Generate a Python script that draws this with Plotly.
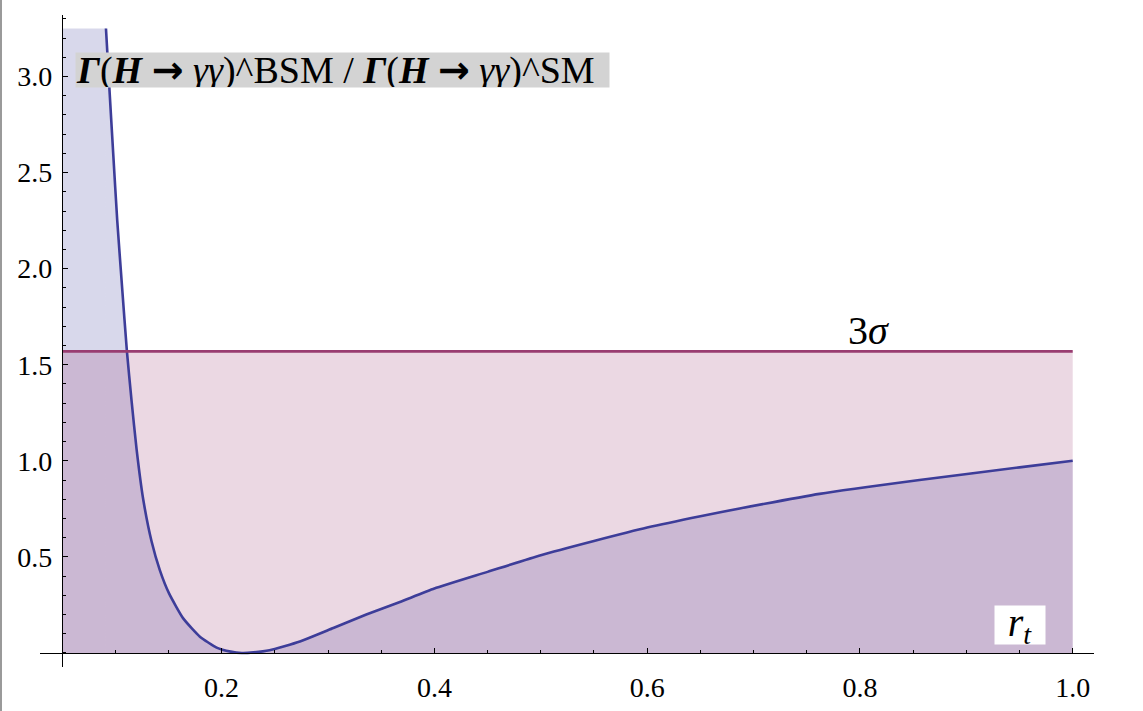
import plotly.graph_objects as go

# ---- data ----
r_t = [0.0913, 0.0944, 0.0981, 0.1019, 0.1065, 0.1110, 0.1154, 0.1201, 0.1263,
       0.1342, 0.1420, 0.1506, 0.1639, 0.1796, 0.1953, 0.2085, 0.2190, 0.2300,
       0.2450, 0.2736, 0.3050, 0.3360, 0.3676, 0.4000, 0.4500, 0.5000, 0.5500,
       0.6000, 0.6500, 0.6870, 0.7620, 0.8560, 0.9500, 1.0000]
ratio = [3.25, 2.95, 2.60, 2.25, 1.90, 1.57, 1.31, 1.06, 0.80,
         0.58, 0.43, 0.31, 0.18, 0.085, 0.028, 0.007, 0.0, 0.003,
         0.014, 0.060, 0.130, 0.200, 0.265, 0.335, 0.422, 0.509, 0.583,
         0.653, 0.712, 0.752, 0.828, 0.900, 0.966, 1.0]
x_start = 0.05          # left end of the plotted range (where the axes cross)
y_clip = 3.25           # top of the plot range (curve is clipped there)
sigma3 = 1.57           # 3 sigma bound
x_ticks = [0.2, 0.4, 0.6, 0.8, 1.0]
x_ticktext = ["0.2", "0.4", "0.6", "0.8", "1.0"]
y_ticks = [0.5, 1.0, 1.5, 2.0, 2.5, 3.0]
y_ticktext = ["0.5", "1.0", "1.5", "2.0", "2.5", "3.0"]

blue = "rgb(61,61,153)"
blue_fill = "rgba(61,61,153,0.2)"
mag = "rgb(153,61,113)"
mag_fill = "rgba(153,61,113,0.2)"

x_range = [0.0293, 1.02]
y_range = [-0.073, 3.32]

fig = go.Figure()
# clipped part of the curve's fill (curve is above the plot range here)
fig.add_trace(go.Scatter(
    x=[x_start, r_t[0]], y=[y_clip, y_clip], mode="lines",
    line=dict(width=0, color=blue_fill),
    fill="tozeroy", fillcolor=blue_fill, hoverinfo="skip", showlegend=False))
# filled area under the curve
fig.add_trace(go.Scatter(
    x=r_t, y=ratio, mode="lines",
    line=dict(width=0, color=blue_fill, shape="spline", smoothing=0.5),
    fill="tozeroy", fillcolor=blue_fill, hoverinfo="skip", showlegend=False))
# filled area under the 3 sigma line
fig.add_trace(go.Scatter(
    x=[x_start, r_t[-1]], y=[sigma3, sigma3], mode="lines",
    line=dict(width=0, color=mag_fill),
    fill="tozeroy", fillcolor=mag_fill, hoverinfo="skip", showlegend=False))
# curve
fig.add_trace(go.Scatter(
    x=r_t, y=ratio, mode="lines",
    line=dict(width=2.6, color=blue, shape="spline", smoothing=0.5),
    showlegend=False))
# 3 sigma line
fig.add_trace(go.Scatter(
    x=[x_start, r_t[-1]], y=[sigma3, sigma3], mode="lines",
    line=dict(width=2.7, color=mag), showlegend=False))

serif = "Liberation Serif, Times New Roman, serif"
xpos = (0 - y_range[0]) / (y_range[1] - y_range[0])
ypos = (x_start - x_range[0]) / (x_range[1] - x_range[0])

arrow = '<span style="font-family:DejaVu Sans">→</span>'
title_txt = ("<b><i>Γ</i></b>(<b><i>H</i> " + arrow + "</b> <i>γγ</i>)^BSM / "
             "<b><i>Γ</i></b>(<b><i>H</i> " + arrow + "</b> <i>γγ</i>)^SM")

fig.update_layout(
    width=1143, height=711,
    margin=dict(l=40, r=49, t=15, b=44, autoexpand=False),
    paper_bgcolor="white", plot_bgcolor="white",
    font=dict(family=serif, color="black"),
    xaxis=dict(range=x_range, anchor="free", position=xpos,
               showgrid=False, zeroline=False, showline=True,
               linecolor="black", linewidth=1.3,
               tickmode="array", tickvals=x_ticks, ticktext=x_ticktext,
               ticks="inside", ticklen=5, tickwidth=1.2, tickcolor="black",
               ticklabelstandoff=9,
               tickfont=dict(family=serif, size=28, color="black"),
               minor=dict(ticks="inside", dtick=0.05, tick0=0.05, ticklen=2.5,
                          tickwidth=1, tickcolor="black", showgrid=False),
               automargin=False),
    yaxis=dict(range=y_range, anchor="free", position=ypos,
               showgrid=False, zeroline=False, showline=True,
               linecolor="black", linewidth=1.3,
               tickmode="array", tickvals=y_ticks, ticktext=y_ticktext,
               ticks="inside", ticklen=5, tickwidth=1.2, tickcolor="black",
               ticklabelstandoff=4,
               tickfont=dict(family=serif, size=28, color="black"),
               minor=dict(ticks="inside", dtick=0.1, tick0=0, ticklen=2.5,
                          tickwidth=1, tickcolor="black", showgrid=False),
               automargin=False),
    annotations=[
        dict(x=0.0622, y=3.032, xref="x", yref="y", xanchor="left", yanchor="middle",
             text=title_txt, showarrow=False, bgcolor="#D3D3D3", borderpad=0,
             width=533, height=34, align="left", valign="middle",
             font=dict(family=serif, size=38, color="black")),
        dict(x=0.8085, y=1.68, xref="x", yref="y", xanchor="center", yanchor="middle",
             text="3<i>σ</i>", showarrow=False,
             font=dict(family=serif, size=40, color="black")),
        dict(x=0.950, y=0.144, xref="x", yref="y", xanchor="center", yanchor="middle",
             text="<i>r</i><sub><i>t</i></sub>", showarrow=False, bgcolor="white",
             width=50, height=38, align="center", valign="middle", borderpad=0,
             font=dict(family=serif, size=40, color="black")),
    ],
    shapes=[dict(type="line", xref="paper", yref="paper",
                 x0=-39 / 1054, x1=-39 / 1054, y0=-0.1, y1=1.1,
                 line=dict(color="#9a9a9a", width=2))],
)

fig.write_html("out.html", config={"displayModeBar": False},
               post_script="document.body.style.margin='0px';"
                           "document.documentElement.style.overflow='hidden';")
